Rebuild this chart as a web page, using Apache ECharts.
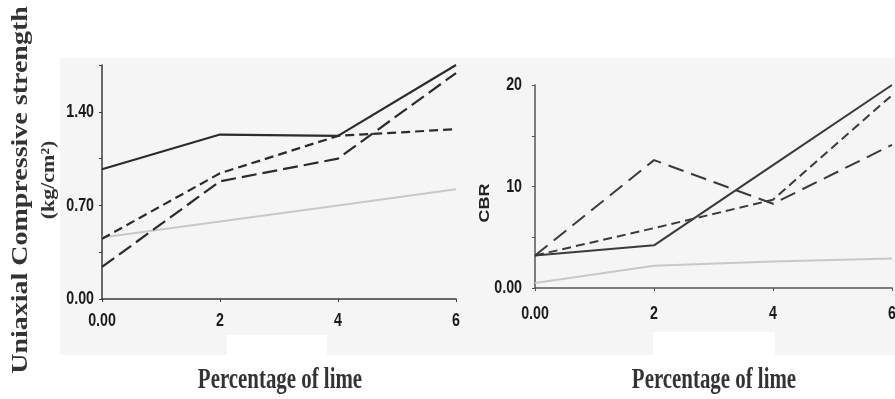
<!DOCTYPE html>
<html>
<head>
<meta charset="utf-8">
<script src="https://cdn.jsdelivr.net/npm/echarts@6/dist/echarts.min.js"></script>
<style>html,body{margin:0;padding:0;background:#fff;}#c{width:895px;height:399px;}</style>
</head>
<body>
<div id="c"></div>
<script>
// ---- data ----
var lime = [0, 2, 4, 6];
var xTickValues = [0, 2, 4, 6];
var xTickLabels = ['0.00', '2', '4', '6'];

// Uniaxial compressive strength (kg/cm2)
var ucsSolid     = [0.97, 1.23, 1.22, 1.75];
var ucsShortDash = [0.45, 0.94, 1.22, 1.27];
var ucsLongDash  = [0.24, 0.88, 1.05, 1.69];
var ucsGrey      = [0.46, 0.58, 0.70, 0.82];
var ucsTickValues = [0, 0.7, 1.4];
var ucsTickLabels = ['0.00', '0.70', '1.40'];

// CBR
var cbrSolid     = [3.2, 4.2, 12.1, 20.0];
var cbrLongDash  = [3.2, 12.6, 8.3, 14.1];
var cbrShortDash = [3.2, 5.9, 8.7, 19.0];
var cbrGrey      = [0.5, 2.2, 2.6, 2.9];
var cbrTickValues = [0, 10, 20];
var cbrTickLabels = ['0.00', '10', '20'];

var yTitleLine1 = 'Uniaxial Compressive strength';
var yTitleLine2 = '(kg/cm\u00B2)';
var xTitle = 'Percentage of lime';
var cbrTitle = 'CBR';

function pairs(xs, ys) { return xs.map(function (x, i) { return [x, ys[i]]; }); }

var dark = '#2b2b2b';
var grey = '#c8c8c8';
var tickFontCss = 'bold 19px "Liberation Sans", Arial, sans-serif';
var serifCss = '"Liberation Serif", "Times New Roman", serif';

function line(xi, yi, data, color, type, width) {
  return { type: 'line', xAxisIndex: xi, yAxisIndex: yi, data: data, showSymbol: false, symbol: 'none',
    lineStyle: { color: color, width: width || 2, type: type }, z: 3, silent: true };
}
function xAx(g, col) {
  return { gridIndex: g, type: 'value', min: 0, max: 6, interval: 2, splitLine: { show: false },
    axisLine: { lineStyle: { color: col, width: 1.5 } }, axisTick: { length: 3, lineStyle: { color: col } },
    axisLabel: { show: false } };
}
function yAx(g, max, interval, col) {
  return { gridIndex: g, type: 'value', min: 0, max: max, interval: interval, splitLine: { show: false },
    axisLine: { show: true, lineStyle: { color: col, width: 1.5 } }, axisTick: { show: true, length: 3, lineStyle: { color: col } },
    axisLabel: { show: false } };
}

var chart = echarts.init(document.getElementById('c'), null, { renderer: 'canvas' });
chart.setOption({
  animation: false,
  backgroundColor: '#fff',
  grid: [
    { left: 102, top: 65, width: 354, height: 234 },
    { left: 535, top: 85, width: 357, height: 203 }
  ],
  xAxis: [xAx(0, '#3a3a3a'), xAx(1, '#555')],
  yAxis: [yAx(0, 1.75, 0.35, '#3a3a3a'), yAx(1, 20, 5, '#555')],
  series: [
    line(0, 0, pairs(lime, ucsGrey), grey, 'solid', 2),
    line(0, 0, pairs(lime, ucsSolid), dark, 'solid', 2.2),
    line(0, 0, pairs(lime, ucsShortDash), dark, [9, 5], 2.2),
    line(0, 0, pairs(lime, ucsLongDash), dark, [15, 6], 2.2),
    line(1, 1, pairs(lime, cbrGrey), grey, 'solid', 2),
    line(1, 1, pairs(lime, cbrSolid), '#3a3a3a', 'solid', 2),
    line(1, 1, pairs(lime, cbrShortDash), '#3a3a3a', [9, 5], 2),
    line(1, 1, pairs(lime, cbrLongDash), '#3a3a3a', [16, 8], 2)
  ]
});

// background panels and titles
var g = [
  { type: 'rect', z: -1, silent: true, shape: { x: 60, y: 58, width: 835, height: 297 }, style: { fill: '#f5f5f5' } },
  { type: 'rect', z: -1, silent: true, shape: { x: 227, y: 335, width: 100, height: 20 }, style: { fill: '#ffffff' } },
  { type: 'rect', z: -1, silent: true, shape: { x: 653, y: 332, width: 122, height: 23 }, style: { fill: '#ffffff' } },
  { type: 'text', silent: true, x: 21, y: 190, rotation: Math.PI / 2, scaleY: 0.85,
    style: { text: yTitleLine1, font: 'bold 28px ' + serifCss, fill: '#333', align: 'center', verticalAlign: 'middle' } },
  { type: 'text', silent: true, x: 49, y: 180, rotation: Math.PI / 2, scaleY: 0.9,
    style: { text: yTitleLine2, font: 'bold 22px ' + serifCss, fill: '#333', align: 'center', verticalAlign: 'middle' } },
  { type: 'text', silent: true, x: 485, y: 203, rotation: Math.PI / 2, scaleY: 0.8,
    style: { text: cbrTitle, font: 'bold 18px "Liberation Sans", Arial, sans-serif', fill: '#222', align: 'center', verticalAlign: 'middle' } },
  { type: 'text', silent: true, x: 280, y: 381, scaleX: 0.72,
    style: { text: xTitle, font: 'bold 29px ' + serifCss, fill: '#333', align: 'center', verticalAlign: 'middle' } },
  { type: 'text', silent: true, x: 714, y: 381, scaleX: 0.72,
    style: { text: xTitle, font: 'bold 29px ' + serifCss, fill: '#333', align: 'center', verticalAlign: 'middle' } }
];

// tick labels placed through the axes' own scales (narrowed like the original)
function tickText(x, y, text, align) {
  return { type: 'text', silent: true, x: x, y: y, scaleX: 0.75,
    style: { text: text, font: tickFontCss, fill: '#1a1a1a', align: align, verticalAlign: 'middle' } };
}
function addXLabels(ai, dy) {
  var y0 = chart.convertToPixel({ yAxisIndex: ai }, 0);
  xTickValues.forEach(function (v, i) {
    g.push(tickText(chart.convertToPixel({ xAxisIndex: ai }, v), y0 + dy, xTickLabels[i], 'center'));
  });
}
function addYLabels(ai, values, labels, dx) {
  var x0 = chart.convertToPixel({ xAxisIndex: ai }, 0);
  values.forEach(function (v, i) {
    g.push(tickText(x0 - dx, chart.convertToPixel({ yAxisIndex: ai }, v), labels[i], 'right'));
  });
}
addXLabels(0, 22);
addXLabels(1, 26);
addYLabels(0, ucsTickValues, ucsTickLabels, 8);
addYLabels(1, cbrTickValues, cbrTickLabels, 13);

chart.setOption({ graphic: g });
</script>
</body>
</html>
